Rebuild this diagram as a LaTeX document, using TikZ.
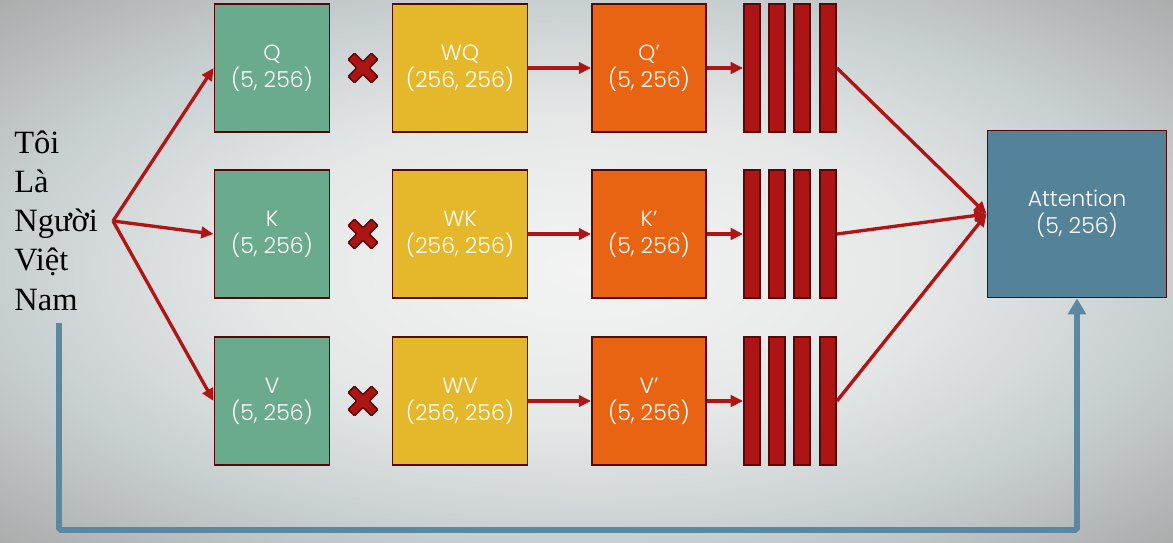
\documentclass[tikz,border=0pt]{standalone}
\usepackage{fontspec}
\setmainfont{Poppins}[UprightFont=* Light]
\newfontfamily\wordfont{Liberation Serif}
\usetikzlibrary{positioning}
\usetikzlibrary{arrows.meta}
\definecolor{qgreen}{HTML}{6AAB8E}
\definecolor{wyellow}{HTML}{E5B82B}
\definecolor{porange}{HTML}{E96412}
\definecolor{barred}{HTML}{AD1414}
\definecolor{arrowred}{HTML}{B01515}
\definecolor{edgedark}{HTML}{560808}
\definecolor{attblue}{HTML}{548399}
\definecolor{linkblue}{HTML}{5A88A0}
\definecolor{bgin}{HTML}{F3F3F3}
\definecolor{bgmid}{HTML}{E6E8E8}
\definecolor{bgedge}{HTML}{C8CFD1}
\definecolor{bgout}{HTML}{AAAAAA}
\pgfdeclareradialshading{bgshade}{\pgfpoint{0bp}{0bp}}{color(0bp)=(bgin); color(14bp)=(bgmid); color(25bp)=(bgedge); color(36bp)=(bgout); color(50bp)=(bgout)}
\tikzset{
    boxn/.style = {draw=edgedark, line width=1.1pt, inner sep=0pt, align=center, text=white, font=\fontsize{12.5}{15.3}\selectfont, minimum height=2.56cm},
    boxg/.style = {boxn, fill=qgreen, minimum width=2.3cm},
    boxy/.style = {boxn, fill=wyellow, minimum width=2.7cm},
    boxo/.style = {boxn, fill=porange, minimum width=2.28cm},
    boxa/.style = {boxn, fill=attblue, minimum width=3.58cm, minimum height=3.34cm},
    barr/.style = {draw=edgedark, line width=1.1pt, fill=barred, inner sep=0pt, minimum width=0.32cm, minimum height=2.56cm},
    wordn/.style = {anchor=base west, inner sep=0pt, font=\wordfont\fontsize{18.5}{22}\selectfont},
    edger/.style = {-{Triangle[length=7pt,width=6.5pt]}, line width=1.9pt, arrowred},
    edgeb/.style = {-{Triangle[length=9pt,width=10pt]}, line width=3.2pt, linkblue},
    crossmark/.pic = {
      \draw[edgedark, line width=0.8pt, fill=barred, rounded corners=0.6pt, rotate=45]
        (-4.5,16.5) -- (4.5,16.5) -- (4.5,4.5) -- (16.5,4.5) -- (16.5,-4.5) -- (4.5,-4.5)
        -- (4.5,-16.5) -- (-4.5,-16.5) -- (-4.5,-4.5) -- (-16.5,-4.5) -- (-16.5,4.5) -- (-4.5,4.5) -- cycle;
    }
}
\begin{document}
\begin{tikzpicture}[x=0.02cm, y=-0.02cm]
  \useasboundingbox (0,0) rectangle (1173,542);
  \shade[shading=bgshade] (0,0) rectangle (1173,542);
  % input words
  \foreach \t [count=\i from 0] in {Tôi, Là, Người, Việt, Nam}
    \node[wordn] (word\i) at (14,{153+39.25*\i}) {\t};
  \coordinate (src) at (113,221);
  \coordinate (tail) at (59,323);
  \coordinate (low) at (1077,530);
  \node[boxa] (att) at (1077,214) {Attention\\(5, 256)};
  % one row for each of Q, K, V
  \foreach \n/\m/\w/\y in {q/Q/WQ/68, k/K/WK/234, v/V/WV/401} {
    \node[boxg] (\n) at (272,\y) {\m\\(5, 256)};
    \pic at (363,\y) {crossmark};
    \node[boxy] (w\n) at (460,\y) {\w\\(256, 256)};
    \node[boxo] (p\n) at (649,\y) {\m'\\(5, 256)};
    \foreach \i/\x in {1/752, 2/777, 3/802, 4/828}
      \node[barr] (b\n\i) at (\x,\y) {};
    \draw[edger] (src) -- (\n.west);
    \draw[edger] (w\n) -- (p\n);
    \draw[edger] (p\n) -- (b\n1);
    \draw[edger] (b\n4.east) -- (att.west);
  }
  \draw[edgeb, rounded corners=1pt] (tail) |- (low) -- (att.south);
\end{tikzpicture}
\end{document}
